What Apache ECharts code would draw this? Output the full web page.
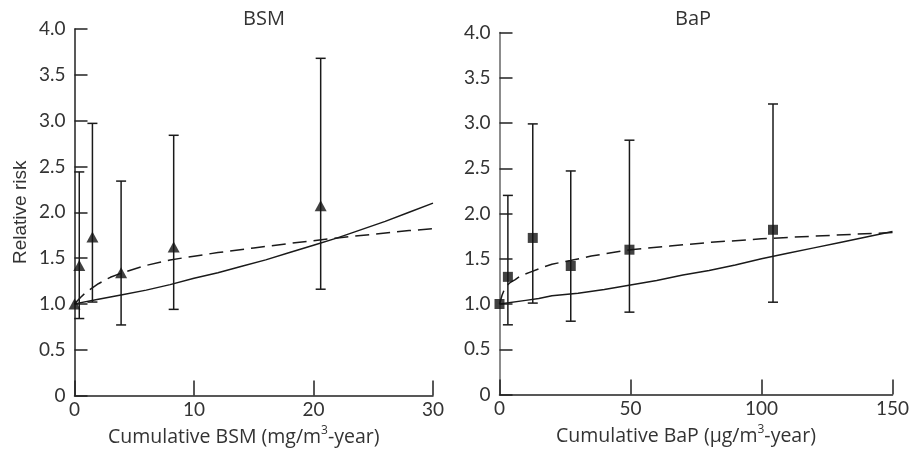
<!DOCTYPE html>
<html>
<head>
<meta charset="utf-8">
<script src="https://cdn.jsdelivr.net/npm/echarts@6/dist/echarts.min.js"></script>
<style>
html,body{margin:0;padding:0;background:#fff;}
#c{width:912px;height:453px;}
</style>
</head>
<body>
<div id="c"></div>
<script>
// ---- BSM panel data ----
const bsmX  = [0, 0.4, 1.5, 3.9, 8.3, 20.6];
const bsmRR = [1.0, 1.42, 1.73, 1.34, 1.62, 2.07];
const bsmLo = [null, 0.84, 1.02, 0.77, 0.94, 1.16];
const bsmHi = [null, 2.44, 2.97, 2.34, 2.84, 3.68];
const bsmSolidX = [0, 2, 4, 6, 8, 10, 12, 14, 16, 18, 20, 22, 24, 26, 28, 30];
const bsmSolidY = [1.00, 1.05, 1.10, 1.15, 1.21, 1.28, 1.34, 1.41, 1.48, 1.56, 1.64, 1.72, 1.81, 1.90, 2.00, 2.10];
const bsmDashX = [0, 0.5, 1, 2, 3, 4, 6, 8, 10, 12, 15, 18, 20, 22, 25, 28, 30];
const bsmDashY = [1.00, 1.07, 1.13, 1.22, 1.29, 1.34, 1.42, 1.48, 1.52, 1.56, 1.61, 1.66, 1.69, 1.72, 1.76, 1.80, 1.82];

// ---- BaP panel data ----
const bapX  = [0, 3.2, 12.7, 27.2, 49.6, 104.4];
const bapRR = [1.0, 1.30, 1.73, 1.42, 1.60, 1.82];
const bapLo = [null, 0.77, 1.01, 0.81, 0.91, 1.02];
const bapHi = [null, 2.20, 2.99, 2.47, 2.81, 3.21];
const bapSolidX = [0, 10, 15, 20, 30, 40, 50, 60, 70, 80, 90, 100, 110, 120, 130, 140, 150];
const bapSolidY = [1.00, 1.04, 1.06, 1.09, 1.12, 1.16, 1.21, 1.26, 1.32, 1.37, 1.43, 1.50, 1.56, 1.62, 1.68, 1.74, 1.80];
const bapDashX = [0, 1, 2, 3, 4, 6, 8, 12, 16, 20, 27, 35, 50, 65, 80, 100, 120, 135, 150];
const bapDashY = [1.00, 1.10, 1.17, 1.21, 1.235, 1.27, 1.31, 1.355, 1.40, 1.44, 1.48, 1.53, 1.60, 1.64, 1.68, 1.72, 1.75, 1.77, 1.79];

// ---- text ----
const titles = ['BSM', 'BaP'];
const xNamesPre = ['Cumulative BSM (mg/m', 'Cumulative BaP (\u00b5g/m'];
const yName = 'Relative risk';

const FONT = 'Lato';
const NAMEFONT = 'Open Sans';
const TXT = '#333';

function zip(xs, ys) { return xs.map((x, i) => [x, ys[i]]); }
function ciData(xs, lo, hi) {
  const out = [];
  xs.forEach((x, i) => { if (lo[i] != null) out.push([x, lo[i], hi[i]]); });
  return out;
}
function errRender(params, api) {
  const x = api.value(0);
  const p1 = api.coord([x, api.value(1)]);
  const p2 = api.coord([x, api.value(2)]);
  const w = 5;
  const st = { stroke: '#1a1a1a', lineWidth: 1.5 };
  return {
    type: 'group',
    children: [
      { type: 'line', shape: { x1: p1[0], y1: p1[1], x2: p2[0], y2: p2[1] }, style: st },
      { type: 'line', shape: { x1: p1[0] - w, y1: p1[1], x2: p1[0] + w, y2: p1[1] }, style: st },
      { type: 'line', shape: { x1: p2[0] - w, y1: p2[1], x2: p2[0] + w, y2: p2[1] }, style: st }
    ]
  };
}

function xAxisCfg(gi, max, interval, namePre) {
  return {
    gridIndex: gi, type: 'value', min: 0, max: max, interval: interval,
    name: '{a|' + namePre + '}{s|3}{a|-year)}',
    nameLocation: 'middle', nameGap: 23,
    nameTextStyle: {
      padding: [0, 20, 0, 0],
      rich: {
        a: { fontFamily: NAMEFONT, fontSize: 19.5, color: TXT, lineHeight: 26 },
        s: { fontFamily: NAMEFONT, fontSize: 12, color: TXT, verticalAlign: 'top', lineHeight: 26, padding: [0, 0, 10, 0] }
      }
    },
    axisLine: { show: true, lineStyle: { color: '#222', width: 1.5 } },
    axisTick: { show: true, inside: true, length: 15, lineStyle: { color: '#222', width: 1.5 } },
    axisLabel: { fontFamily: FONT, fontSize: 19, color: TXT, margin: 5 },
    splitLine: { show: false }
  };
}
function yAxisCfg(gi, lineColor, nm) {
  return {
    gridIndex: gi, type: 'value', min: 0, max: 4, interval: 0.5,
    name: nm, nameLocation: 'middle', nameGap: 44,
    nameTextStyle: { fontFamily: 'Liberation Sans', fontSize: 19, color: TXT, padding: [0, 0, 0, 0] },
    axisLine: { show: true, onZero: false, lineStyle: { color: lineColor, width: 1.5 } },
    axisTick: { show: true, inside: true, length: 13, lineStyle: { color: '#222', width: 1.5 } },
    axisLabel: {
      fontFamily: FONT, fontSize: 19, color: TXT, margin: 9,
      formatter: v => (v === 0 ? '0' : v.toFixed(1))
    },
    splitLine: { show: false }
  };
}

const chart = echarts.init(document.getElementById('c'), null, { renderer: 'canvas' });
chart.setOption({
  backgroundColor: '#fff',
  animation: false,
  title: [
    { text: titles[0], left: 259, top: 4, textAlign: 'center', textStyle: { fontFamily: NAMEFONT, fontSize: 20, fontWeight: 'normal', color: TXT } },
    { text: titles[1], left: 688, top: 4, textAlign: 'center', textStyle: { fontFamily: NAMEFONT, fontSize: 20, fontWeight: 'normal', color: TXT } }
  ],
  grid: [
    { left: 74.5, top: 29, width: 358.5, height: 366.5 },
    { left: 499.5, top: 32.5, width: 394.5, height: 362 }
  ],
  xAxis: [
    xAxisCfg(0, 30, 10, xNamesPre[0]),
    xAxisCfg(1, 150, 50, xNamesPre[1])
  ],
  yAxis: [
    yAxisCfg(0, '#222', yName),
    yAxisCfg(1, '#666', '')
  ],
  series: [
    { type: 'line', xAxisIndex: 0, yAxisIndex: 0, data: zip(bsmSolidX, bsmSolidY), showSymbol: false,
      lineStyle: { color: '#1a1a1a', width: 1.5 }, z: 2 },
    { type: 'line', xAxisIndex: 0, yAxisIndex: 0, data: zip(bsmDashX, bsmDashY), showSymbol: false,
      lineStyle: { color: '#1a1a1a', width: 1.5, type: [14, 7] }, z: 2 },
    { type: 'custom', xAxisIndex: 0, yAxisIndex: 0, data: ciData(bsmX, bsmLo, bsmHi), renderItem: errRender, z: 3 },
    { type: 'scatter', xAxisIndex: 0, yAxisIndex: 0, data: zip(bsmX, bsmRR), symbol: 'triangle', symbolSize: [12, 11],
      itemStyle: { color: '#111' }, z: 4 },
    { type: 'line', xAxisIndex: 1, yAxisIndex: 1, data: zip(bapSolidX, bapSolidY), showSymbol: false,
      lineStyle: { color: '#1a1a1a', width: 1.5 }, z: 2 },
    { type: 'line', xAxisIndex: 1, yAxisIndex: 1, data: zip(bapDashX, bapDashY), showSymbol: false,
      lineStyle: { color: '#1a1a1a', width: 1.5, type: [14, 7] }, z: 2 },
    { type: 'custom', xAxisIndex: 1, yAxisIndex: 1, data: ciData(bapX, bapLo, bapHi), renderItem: errRender, z: 3 },
    { type: 'scatter', xAxisIndex: 1, yAxisIndex: 1, data: zip(bapX, bapRR), symbol: 'rect', symbolSize: 10,
      itemStyle: { color: '#111' }, z: 4 }
  ]
});
</script>
</body>
</html>
